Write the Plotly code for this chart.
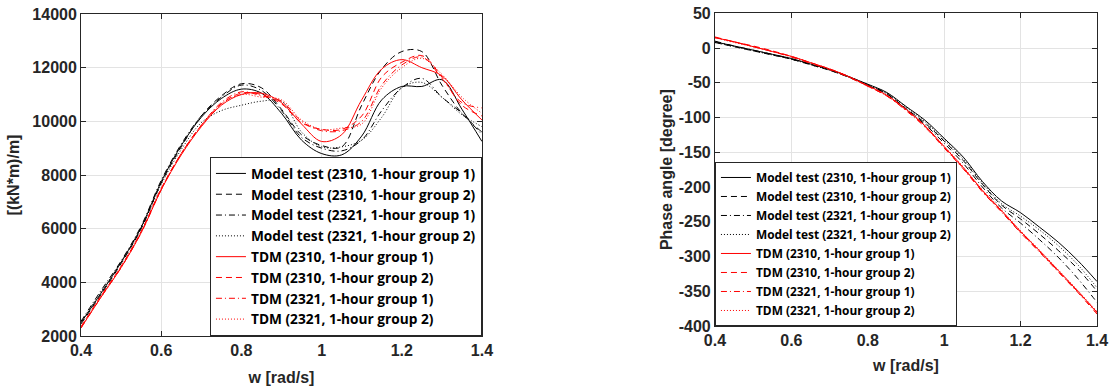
import plotly.graph_objects as go

w = [0.40, 0.45, 0.50, 0.55, 0.60, 0.65, 0.70, 0.75, 0.80, 0.85, 0.90,
     0.95, 1.00, 1.05, 1.10, 1.15, 1.20, 1.25, 1.30, 1.35, 1.40]

# Left panel: amplitude [(kN*m)/m]
amp_mt_2310_g1 = [2500, 3600, 4750, 6050, 7750, 9100, 10150, 10850, 11200, 11050, 10300,
                  9300, 8800, 8750, 9450, 10800, 11300, 11300, 11550, 10450, 9250]
amp_mt_2310_g2 = [2450, 3550, 4700, 6000, 7700, 9050, 10200, 10950, 11400, 11250, 10450,
                  9500, 9100, 9050, 10600, 11950, 12600, 12600, 11350, 10300, 9600]
amp_mt_2321_g1 = [2550, 3700, 4800, 6100, 7800, 9150, 10200, 10900, 11350, 11150, 10400,
                  9400, 9000, 8900, 9300, 10400, 11250, 11600, 10900, 10300, 9500]
amp_mt_2321_g2 = [2500, 3650, 4750, 6000, 7650, 8950, 9950, 10400, 10600, 10750, 10750,
                  9600, 9050, 9050, 9300, 10150, 11250, 11450, 10900, 10250, 9800]
amp_tdm_2310_g1 = [2300, 3450, 4550, 5850, 7450, 8750, 9800, 10600, 11000, 11050, 10700,
                   9900, 9250, 9500, 10800, 11950, 12300, 12000, 11700, 10800, 10050]
amp_tdm_2310_g2 = [2350, 3500, 4600, 5900, 7500, 8800, 9850, 10650, 11050, 11000, 10650,
                   9950, 9700, 9700, 10200, 11650, 12200, 12450, 11650, 10600, 10200]
amp_tdm_2321_g1 = [2300, 3450, 4550, 5850, 7450, 8800, 9850, 10700, 11100, 10950, 10750,
                   10000, 9650, 9650, 10000, 11350, 12100, 12400, 11600, 10700, 10500]
amp_tdm_2321_g2 = [2350, 3500, 4600, 5900, 7500, 8800, 9850, 10650, 11000, 10900, 10800,
                   10050, 9700, 9750, 9900, 11250, 12000, 12350, 11750, 10900, 10300]

# Right panel: phase angle [degree]
ph_mt_2310_g1 = [9, 3, -3, -9, -15, -23, -31, -41, -52, -64, -84, -104, -130, -157, -192,
                 -220, -237, -258, -280, -306, -336]
ph_mt_2310_g2 = [8, 2, -4, -10, -16, -24, -32, -42, -54, -66, -87, -108, -134, -162, -196,
                 -226, -246, -268, -292, -318, -350]
ph_mt_2321_g1 = [10, 3, -3, -9, -16, -23, -31, -41, -53, -66, -88, -110, -137, -166, -200,
                 -230, -252, -276, -302, -332, -366]
ph_mt_2321_g2 = [8, 2, -4, -10, -16, -24, -32, -42, -53, -65, -85, -106, -132, -160, -194,
                 -224, -242, -262, -285, -312, -345]
ph_tdm_2310_g1 = [15, 9, 2, -5, -12, -21, -30, -41, -54, -68, -88, -112, -142, -172, -205,
                  -234, -264, -292, -321, -350, -381]
ph_tdm_2310_g2 = [16, 9, 3, -4, -12, -21, -30, -41, -55, -69, -89, -113, -143, -173, -206,
                  -235, -265, -293, -322, -351, -380]
ph_tdm_2321_g1 = [15, 9, 2, -5, -13, -22, -31, -42, -55, -69, -90, -114, -144, -174, -207,
                  -236, -266, -294, -323, -352, -383]
ph_tdm_2321_g2 = [15, 8, 2, -5, -12, -21, -30, -41, -54, -68, -88, -112, -141, -171, -204,
                  -233, -263, -291, -320, -349, -379]

names = ["Model test (2310, 1-hour group 1)", "Model test (2310, 1-hour group 2)",
         "Model test (2321, 1-hour group 1)", "Model test (2321, 1-hour group 2)",
         "TDM (2310, 1-hour group 1)", "TDM (2310, 1-hour group 2)",
         "TDM (2321, 1-hour group 1)", "TDM (2321, 1-hour group 2)"]

x_ticks = [0.4, 0.6, 0.8, 1.0, 1.2, 1.4]
x_ticklabels = ["0.4", "0.6", "0.8", "1", "1.2", "1.4"]
amp_ticks = [2000, 4000, 6000, 8000, 10000, 12000, 14000]
amp_ticklabels = ["2000", "4000", "6000", "8000", "10000", "12000", "14000"]
ph_ticks = [-400, -350, -300, -250, -200, -150, -100, -50, 0, 50]
ph_ticklabels = ["-400", "-350", "-300", "-250", "-200", "-150", "-100", "-50", "0", "50"]

colors = ["#000000"] * 4 + ["#FF0000"] * 4
dashes = ["solid", "6px,4px", "6px,3px,1px,3px", "1px,2px"] * 2

amp_series = [amp_mt_2310_g1, amp_mt_2310_g2, amp_mt_2321_g1, amp_mt_2321_g2,
              amp_tdm_2310_g1, amp_tdm_2310_g2, amp_tdm_2321_g1, amp_tdm_2321_g2]
ph_series = [ph_mt_2310_g1, ph_mt_2310_g2, ph_mt_2321_g1, ph_mt_2321_g2,
             ph_tdm_2310_g1, ph_tdm_2310_g2, ph_tdm_2321_g1, ph_tdm_2321_g2]

fig = go.Figure()
for i in range(8):
    fig.add_trace(go.Scatter(x=w, y=amp_series[i], name=names[i], mode="lines",
                             line=dict(color=colors[i], width=1, dash=dashes[i], shape="spline", smoothing=1.0),
                             xaxis="x", yaxis="y", legend="legend"))
for i in range(8):
    fig.add_trace(go.Scatter(x=w, y=ph_series[i], name=names[i], mode="lines",
                             line=dict(color=colors[i], width=1, dash=dashes[i], shape="spline", smoothing=1.0),
                             xaxis="x2", yaxis="y2", legend="legend2"))

FONT = "Liberation Sans, Arial, sans-serif"
LFONT = "Open Sans, Liberation Sans, sans-serif"
axcol = "#262626"
tickfont = dict(family=FONT, size=16, color=axcol, weight="bold")
titlefont = dict(family=FONT, size=16, color=axcol, weight="bold")
legfont_left = dict(family=LFONT, size=13.7, color="#000000", weight="bold")
legfont_right = dict(family=LFONT, size=11.9, color="#000000", weight="bold")

common = dict(showline=True, linecolor=axcol, linewidth=1, mirror="ticks", ticks="inside",
              ticklen=5, tickcolor=axcol, showgrid=True, gridcolor="#e3e3e3", gridwidth=1,
              zeroline=False, tickfont=tickfont, automargin=False)

fig.update_layout(
    width=1110, height=389,
    margin=dict(l=0, r=0, t=0, b=0, autoexpand=False),
    paper_bgcolor="white", plot_bgcolor="white",
    showlegend=True,
    xaxis=dict(domain=[0.073, 0.4342], range=[0.4, 1.4], tickvals=x_ticks, ticktext=x_ticklabels,
               title=dict(text="w [rad/s]", font=titlefont, standoff=13), anchor="y", **common),
    yaxis=dict(domain=[0.1362, 0.964], range=[2000, 14000], tickvals=amp_ticks, ticktext=amp_ticklabels,
               title=dict(text="[(kN*m)/m]", font=titlefont, standoff=8), anchor="x", **common),
    xaxis2=dict(domain=[0.6441, 0.9883], range=[0.4, 1.4], tickvals=x_ticks, ticktext=x_ticklabels,
                title=dict(text="w [rad/s]", font=titlefont, standoff=11), anchor="y2", **common),
    yaxis2=dict(domain=[0.162, 0.9658], range=[-400, 50], tickvals=ph_ticks, ticktext=ph_ticklabels,
                title=dict(text="Phase angle [degree]", font=titlefont, standoff=2), anchor="x2", **common),
    legend=dict(x=0.4342, y=0.1362, xanchor="right", yanchor="bottom",
                bgcolor="white", bordercolor=axcol, borderwidth=1,
                font=legfont_left, tracegroupgap=0, itemwidth=30),
    legend2=dict(x=0.6441, y=0.162, xanchor="left", yanchor="bottom",
                 bgcolor="white", bordercolor=axcol, borderwidth=1,
                 font=legfont_right, tracegroupgap=0, itemwidth=30),
)

fig.write_html("out.html")
